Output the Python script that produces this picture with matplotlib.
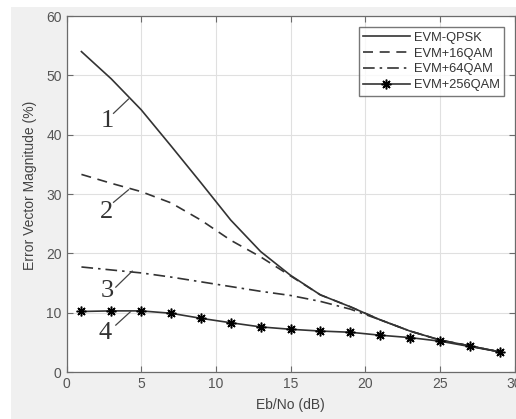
import matplotlib
matplotlib.use("Agg")
import matplotlib.pyplot as plt
from matplotlib.patches import Rectangle

x_db = [1, 3, 5, 7, 9, 11, 13, 15, 17, 19, 21, 23, 25, 27, 29]
evm_qpsk = [54.0, 49.4, 44.2, 38.1, 31.9, 25.6, 20.3, 16.3, 13.0, 11.0, 8.8, 6.9, 5.4, 4.4, 3.4]
evm_16qam = [33.3, 31.8, 30.4, 28.5, 25.6, 22.2, 19.4, 16.2, 13.0, 11.0, 8.8, 6.9, 5.4, 4.4, 3.4]
evm_64qam = [17.7, 17.2, 16.7, 16.0, 15.2, 14.4, 13.6, 12.9, 11.9, 10.6, 8.8, 6.9, 5.4, 4.4, 3.4]
evm_256qam = [10.2, 10.3, 10.3, 9.9, 9.05, 8.3, 7.6, 7.2, 6.9, 6.7, 6.2, 5.8, 5.2, 4.3, 3.4]
series_labels = ["EVM-QPSK", "EVM+16QAM", "EVM+64QAM", "EVM+256QAM"]
x_ticks = [0, 5, 10, 15, 20, 25, 30]
y_ticks = [0, 10, 20, 30, 40, 50, 60]
callouts = ["1", "2", "3", "4"]

plt.rcParams["font.family"] = ["Liberation Sans", "DejaVu Sans"]

W, H = 516, 419
fig = plt.figure(figsize=(W / 100, H / 100), dpi=100)
fig.patch.set_facecolor("white")
fig.add_artist(Rectangle((11 / W, 0), 1, 1 - 7 / H, transform=fig.transFigure,
                         facecolor="#f0f0f0", edgecolor="none", zorder=-10))

ax = fig.add_axes([66.5 / W, 1 - 372 / H, 448 / W, 356 / H])
ax.set_facecolor("white")

lc = "#333333"
ax.plot(x_db, evm_qpsk, color=lc, lw=1.2, ls="-", label=series_labels[0])
ax.plot(x_db, evm_16qam, color=lc, lw=1.2, ls=(0, (6, 4)), label=series_labels[1])
ax.plot(x_db, evm_64qam, color=lc, lw=1.2, ls=(0, (7, 3, 1.5, 3)), label=series_labels[2])
ax.plot(x_db, evm_256qam, color=lc, lw=1.2, ls="-", marker=(8, 2, 0), ms=7, mew=1.1,
        mec="black", label=series_labels[3])

ax.set_xlim(0, 30)
ax.set_ylim(0, 60)
ax.set_xticks(x_ticks)
ax.set_yticks(y_ticks)
ax.grid(True, color="#e0e0e0", lw=0.8)
ax.set_axisbelow(True)
for s in ax.spines.values():
    s.set_color("#6b6b6b")
    s.set_linewidth(0.9)
ax.tick_params(direction="in", length=4, width=0.8, colors="#6b6b6b",
               labelcolor="#555555", labelsize=10, top=True, right=True)
ax.set_xlabel("Eb/No (dB)", fontsize=10, color="#444444", labelpad=5)
ax.set_ylabel("Error Vector Magnitude (%)", fontsize=10, color="#444444")
ax.yaxis.set_label_coords(-0.066, 0.525)

leg = ax.legend(loc="upper right", fontsize=9.3, frameon=True, fancybox=False,
                handlelength=3.6, handletextpad=0.3, borderpad=0.35, labelspacing=0.3,
                borderaxespad=0, bbox_to_anchor=(0.9766, 0.969))
leg.get_frame().set_edgecolor("#555555")
leg.get_frame().set_linewidth(1.0)
for t in leg.get_texts():
    t.set_color("#333333")

# callout annotations: (label position, curve point)
label_pos = [(2.7, 42.3), (2.7, 27.0), (2.7, 13.6), (2.6, 6.5)]
curve_pt = [(4.15, 46.0), (4.15, 30.7), (4.4, 17.0), (4.3, 10.2)]
line_start = [(3.15, 43.6), (3.15, 28.6), (3.3, 14.3), (3.3, 7.9)]
for lab, lp, cp, ls in zip(callouts, label_pos, curve_pt, line_start):
    ax.text(lp[0], lp[1], lab, fontsize=19, family="Liberation Serif",
            color="#333333", ha="center", va="center")
    ax.plot([ls[0], cp[0]], [ls[1], cp[1]], color="#444444", lw=0.9)

fig.savefig("out.png", dpi=100)
